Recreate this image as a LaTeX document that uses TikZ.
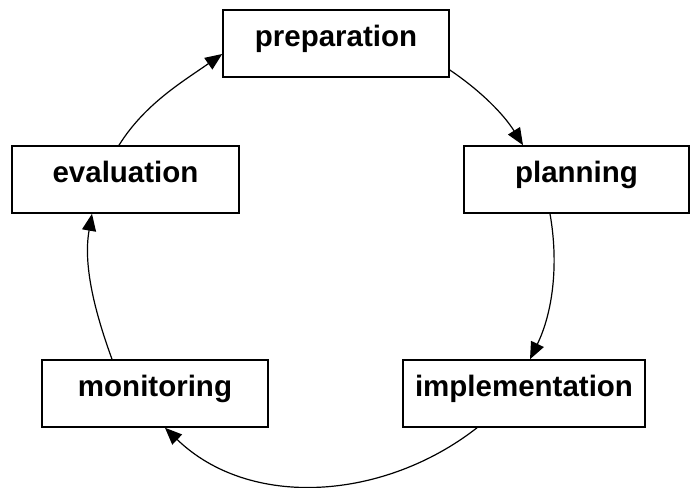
\documentclass[tikz,border=0pt]{standalone}
\usepackage{fontspec}
\setmainfont{Liberation Sans}
\usetikzlibrary{arrows.meta}
\begin{document}
\begin{tikzpicture}[x=1pt,y=1pt,
  stagebox/.style={draw=black, line width=1.6pt, fill=white, inner sep=0pt,
    minimum height=67pt, text height=20pt, text depth=14pt,
    font=\fontsize{29.5}{35}\selectfont\bfseries},
  flow/.style={line width=1.2pt, -{Triangle[length=17pt,width=14pt]}}]
\useasboundingbox (0,0) rectangle (690,487);
\node[stagebox, minimum width=226pt] (prep) at (336,443.5) {preparation};
\node[stagebox, minimum width=225pt] (plan) at (576.5,307.5) {planning};
\node[stagebox, minimum width=242pt] (impl) at (524,93.5) {implementation};
\node[stagebox, minimum width=226pt] (mon) at (155,93.5) {monitoring};
\node[stagebox, minimum width=227pt] (eval) at (125.5,307.5) {evaluation};
\draw[flow] ([yshift=-26.5pt]prep.east) to[out=-34,in=122,looseness=0.9] ([xshift=-53.5pt]plan.north);
\draw[flow] ([xshift=-26.5pt]plan.south) to[out=-80,in=64,looseness=0.9] ([xshift=6pt]impl.north);
\draw[flow] ([xshift=-47pt]impl.south) to[out=-142,in=-44,looseness=0.97] ([xshift=10pt]mon.south);
\draw[flow] ([xshift=-43pt]mon.north) to[out=110,in=-100,looseness=0.9] ([xshift=-33.5pt]eval.south);
\draw[flow] ([xshift=-6.5pt]eval.north) to[out=58,in=-145,looseness=0.9] ([yshift=-10.5pt]prep.west);
\end{tikzpicture}
\end{document}
